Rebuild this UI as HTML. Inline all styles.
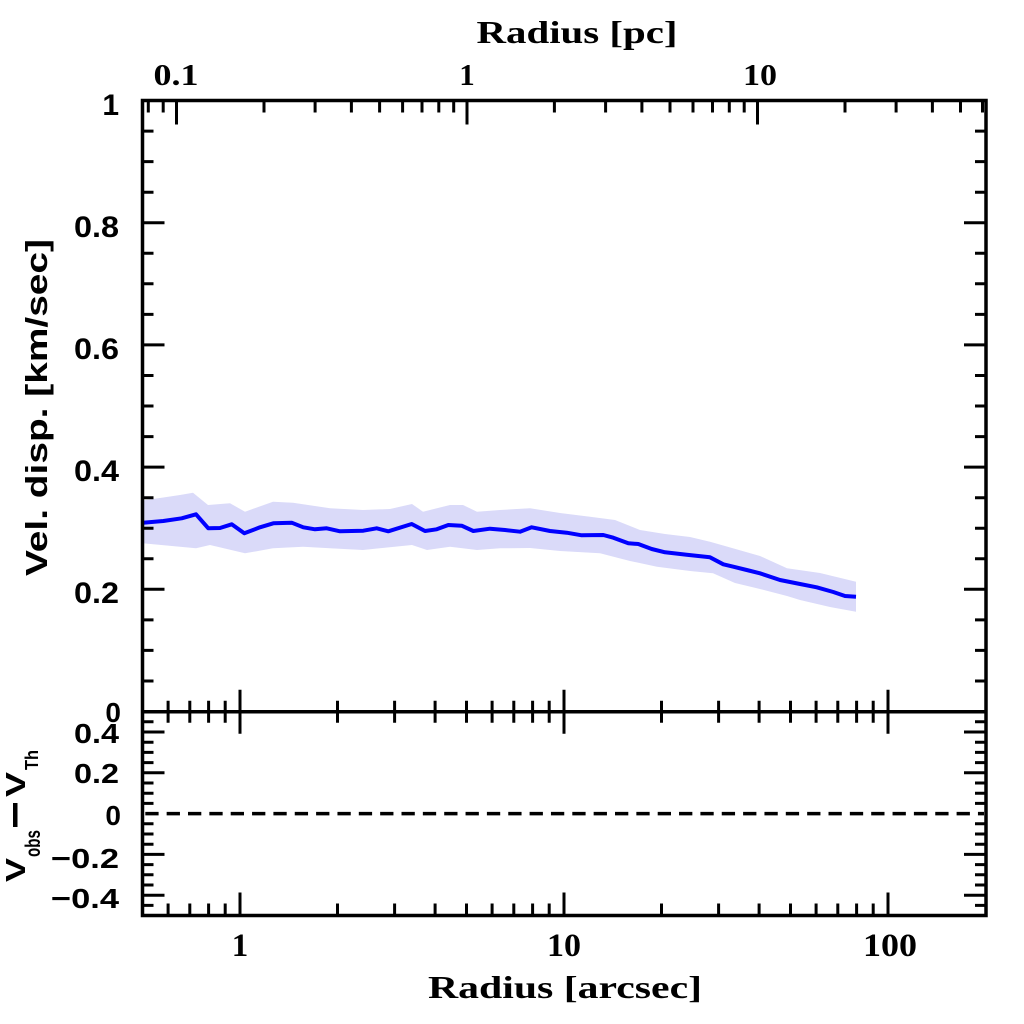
<!DOCTYPE html>
<html>
<head>
<meta charset="utf-8">
<style>
  html, body { margin: 0; padding: 0; background: #ffffff; }
  svg { display: block; }
  .num { font-family: "Liberation Sans", "DejaVu Sans", sans-serif; font-weight: bold; fill: #000; }
  .ser { font-family: "Liberation Serif", "DejaVu Serif", serif; font-weight: bold; fill: #000; }
</style>
</head>
<body>
<svg width="1024" height="1024" viewBox="0 0 1024 1024" xmlns="http://www.w3.org/2000/svg">
  <rect x="0" y="0" width="1024" height="1024" fill="#ffffff"/>

  <!-- error band -->
  <polygon fill="#dadaf9" points="
    142.5,500.5 160,498 180,495 193,492.7 208,505 230,503.3 245,511.7 273,501.7 293,502.7 330,508.3
    363,510 390,509 412,504 423,511.7 450,505 463,505 477,511.7 500,510 530,508.3 560,513 590,516.7
    615,520 640,530 665,534 690,537 710,541.7 725,546 760,556 787,568.3 820,573 856,581.7
    856,611.7 830,607 800,600 787,596 760,589 735,583 713,573.3 690,571 657,566.7 630,561 600,553.3
    560,551 530,548 500,548.3 477,550 450,546.7 427,550 412,545 363,550 330,548.3 303,546.7 273,548.3
    245,553.3 210,545 196,548.3 142.5,543.3"/>

  <!-- blue line -->
  <polyline fill="none" stroke="#0000ff" stroke-width="4" stroke-linejoin="round" points="
    143,522.7 163.3,521 181.7,518.3 196,514.3 208.3,528.3 220,528 231.7,524.3 244.3,533.3 260,527.3
    273.3,523.3 291.7,522.7 303.3,527.3 315,529.3 326.7,528.3 340,531.3 363.3,530.7 376.7,528.3
    388.3,531.3 411.7,524 425,531 436.7,529.3 448.3,525 461.7,525.7 473.3,531 490,528.7 505,530
    520,531.7 531.7,527.3 550,531 566.7,532.7 581.7,535.3 603.3,535 613.3,537.7 628.3,543.3 638.3,544
    651.7,549 665,552.3 686.7,554.7 710,557.3 723.3,564.3 733.3,566.7 746.7,570 760,573.3 780,580
    800,584 816.7,587.3 833.3,592 845,596 856,596.7"/>

  <!-- dashed zero line -->
  <path d="M145.3 813.6 H984" stroke="#000" stroke-width="3.5" stroke-dasharray="13.3 8.05" fill="none"/>

  <!-- frame -->
  <rect x="142.5" y="100.5" width="843.5" height="815" fill="none" stroke="#000" stroke-width="3.5"/>
  <path d="M142.5 711.7 H986" stroke="#000" stroke-width="3.5" fill="none"/>

  <g stroke="#000" stroke-width="3" fill="none">
    <path d="M142.5 681 h11 M142.5 650.4 h11 M142.5 619.9 h11 M142.5 558.8 h11 M142.5 528.2 h11 M142.5 497.7 h11
             M142.5 436.6 h11 M142.5 406 h11 M142.5 375.5 h11 M142.5 314.4 h11 M142.5 283.8 h11 M142.5 253.3 h11
             M142.5 192.2 h11 M142.5 161.6 h11 M142.5 131.1 h11"/>
    <path d="M142.5 589.3 h22 M142.5 467.1 h22 M142.5 344.9 h22 M142.5 222.7 h22"/>
    <path d="M986 681 h-11 M986 650.4 h-11 M986 619.9 h-11 M986 558.8 h-11 M986 528.2 h-11 M986 497.7 h-11
             M986 436.6 h-11 M986 406 h-11 M986 375.5 h-11 M986 314.4 h-11 M986 283.8 h-11 M986 253.3 h-11
             M986 192.2 h-11 M986 161.6 h-11 M986 131.1 h-11"/>
    <path d="M986 589.3 h-22 M986 467.1 h-22 M986 344.9 h-22 M986 222.7 h-22"/>

    <path d="M142.5 721.8 h11 M142.5 742.2 h11 M142.5 752.4 h11 M142.5 762.6 h11 M142.5 783 h11 M142.5 793.2 h11
             M142.5 803.4 h11 M142.5 823.8 h11 M142.5 834 h11 M142.5 844.2 h11 M142.5 864.6 h11 M142.5 874.8 h11
             M142.5 885 h11 M142.5 905.4 h11"/>
    <path d="M142.5 732 h22 M142.5 772.8 h22 M142.5 854.4 h22 M142.5 895.2 h22"/>
    <path d="M986 721.8 h-11 M986 742.2 h-11 M986 752.4 h-11 M986 762.6 h-11 M986 783 h-11 M986 793.2 h-11
             M986 803.4 h-11 M986 823.8 h-11 M986 834 h-11 M986 844.2 h-11 M986 864.6 h-11 M986 874.8 h-11
             M986 885 h-11 M986 905.4 h-11"/>
    <path d="M986 732 h-22 M986 772.8 h-22 M986 854.4 h-22 M986 895.2 h-22"/>

    <path d="M148.3 100.5 v12 M163.2 100.5 v12 M264 100.5 v12 M315.1 100.5 v12 M351.4 100.5 v12 M379.6 100.5 v12
             M402.6 100.5 v12 M422 100.5 v12 M438.8 100.5 v12 M453.7 100.5 v12 M554.4 100.5 v12 M605.6 100.5 v12
             M641.9 100.5 v12 M670 100.5 v12 M693 100.5 v12 M712.5 100.5 v12 M729.3 100.5 v12 M744.2 100.5 v12
             M845 100.5 v12 M896.1 100.5 v12 M932.4 100.5 v12 M960.5 100.5 v12 M982.5 100.5 v12"/>
    <path d="M176.5 100.5 v24 M467 100.5 v24 M757.5 100.5 v24"/>

    <path d="M168.1 700.7 v22 M189.8 700.7 v22 M208.6 700.7 v22 M225.2 700.7 v22
             M337.5 700.7 v22 M394.6 700.7 v22 M435.1 700.7 v22 M466.5 700.7 v22 M492.1 700.7 v22 M513.8 700.7 v22 M532.6 700.7 v22 M549.2 700.7 v22
             M661.5 700.7 v22 M718.6 700.7 v22 M759.1 700.7 v22 M790.5 700.7 v22 M816.1 700.7 v22 M837.8 700.7 v22 M856.6 700.7 v22 M873.2 700.7 v22"/>
    <path d="M240 689.7 v44 M564 689.7 v44 M888 689.7 v44"/>

    <path d="M168.1 915.5 v-12 M189.8 915.5 v-12 M208.6 915.5 v-12 M225.2 915.5 v-12
             M337.5 915.5 v-12 M394.6 915.5 v-12 M435.1 915.5 v-12 M466.5 915.5 v-12 M492.1 915.5 v-12 M513.8 915.5 v-12 M532.6 915.5 v-12 M549.2 915.5 v-12
             M661.5 915.5 v-12 M718.6 915.5 v-12 M759.1 915.5 v-12 M790.5 915.5 v-12 M816.1 915.5 v-12 M837.8 915.5 v-12 M856.6 915.5 v-12 M873.2 915.5 v-12"/>
    <path d="M240 915.5 v-23 M564 915.5 v-23 M888 915.5 v-23"/>
  </g>

  <!-- top labels -->
  <text class="ser" x="176" y="85" font-size="31" text-anchor="middle" textLength="45" lengthAdjust="spacingAndGlyphs">0.1</text>
  <text class="ser" x="467" y="85" font-size="31" text-anchor="middle">1</text>
  <text class="ser" x="760" y="85" font-size="31" text-anchor="middle" textLength="34" lengthAdjust="spacingAndGlyphs">10</text>
  <text class="ser" x="577" y="43" font-size="32" text-anchor="middle" textLength="201" lengthAdjust="spacingAndGlyphs">Radius [pc]</text>

  <!-- bottom labels -->
  <text class="ser" x="240" y="956" font-size="33" text-anchor="middle">1</text>
  <text class="ser" x="564" y="956" font-size="33" text-anchor="middle" textLength="34" lengthAdjust="spacingAndGlyphs">10</text>
  <text class="ser" x="890" y="956" font-size="33" text-anchor="middle" textLength="54" lengthAdjust="spacingAndGlyphs">100</text>
  <text class="ser" x="565" y="998" font-size="32" text-anchor="middle" textLength="274" lengthAdjust="spacingAndGlyphs">Radius [arcsec]</text>

  <!-- main panel y labels -->
  <text class="num" x="119" y="115" font-size="30" text-anchor="end">1</text>
  <text class="num" x="119" y="237" font-size="30" text-anchor="end" textLength="45" lengthAdjust="spacingAndGlyphs">0.8</text>
  <text class="num" x="119" y="359" font-size="30" text-anchor="end" textLength="45" lengthAdjust="spacingAndGlyphs">0.6</text>
  <text class="num" x="119" y="481" font-size="30" text-anchor="end" textLength="45" lengthAdjust="spacingAndGlyphs">0.4</text>
  <text class="num" x="119" y="603" font-size="30" text-anchor="end" textLength="45" lengthAdjust="spacingAndGlyphs">0.2</text>
  <text class="num" x="121" y="722" font-size="28" text-anchor="end">0</text>

  <!-- lower panel y labels -->
  <text class="num" x="119" y="743" font-size="28" text-anchor="end" textLength="45" lengthAdjust="spacingAndGlyphs">0.4</text>
  <text class="num" x="119" y="783" font-size="28" text-anchor="end" textLength="45" lengthAdjust="spacingAndGlyphs">0.2</text>
  <text class="num" x="121" y="825" font-size="28" text-anchor="end">0</text>
  <text class="num" x="119" y="868" font-size="28" text-anchor="end" textLength="68" lengthAdjust="spacingAndGlyphs">−0.2</text>
  <text class="num" x="119" y="908" font-size="28" text-anchor="end" textLength="68" lengthAdjust="spacingAndGlyphs">−0.4</text>

  <!-- y axis title main -->
  <text class="num" transform="translate(47,407.5) rotate(-90)" x="0" y="0" font-size="31" text-anchor="middle" textLength="337" lengthAdjust="spacingAndGlyphs">Vel. disp. [km/sec]</text>

  <!-- y axis title lower: V_obs - V_Th -->
  <text class="num" transform="translate(25,882) rotate(-90)" x="0" y="0" font-size="28" textLength="24" lengthAdjust="spacingAndGlyphs">V</text>
  <text class="num" transform="translate(40,857) rotate(-90)" x="0" y="0" font-size="21" textLength="27" lengthAdjust="spacingAndGlyphs">obs</text>
  <rect x="13" y="803" width="4.5" height="24" fill="#000"/>
  <text class="num" transform="translate(25,797) rotate(-90)" x="0" y="0" font-size="28" textLength="25" lengthAdjust="spacingAndGlyphs">V</text>
  <text class="num" transform="translate(38,770) rotate(-90)" x="0" y="0" font-size="18" textLength="20" lengthAdjust="spacingAndGlyphs">Th</text>
</svg>
</body>
</html>
